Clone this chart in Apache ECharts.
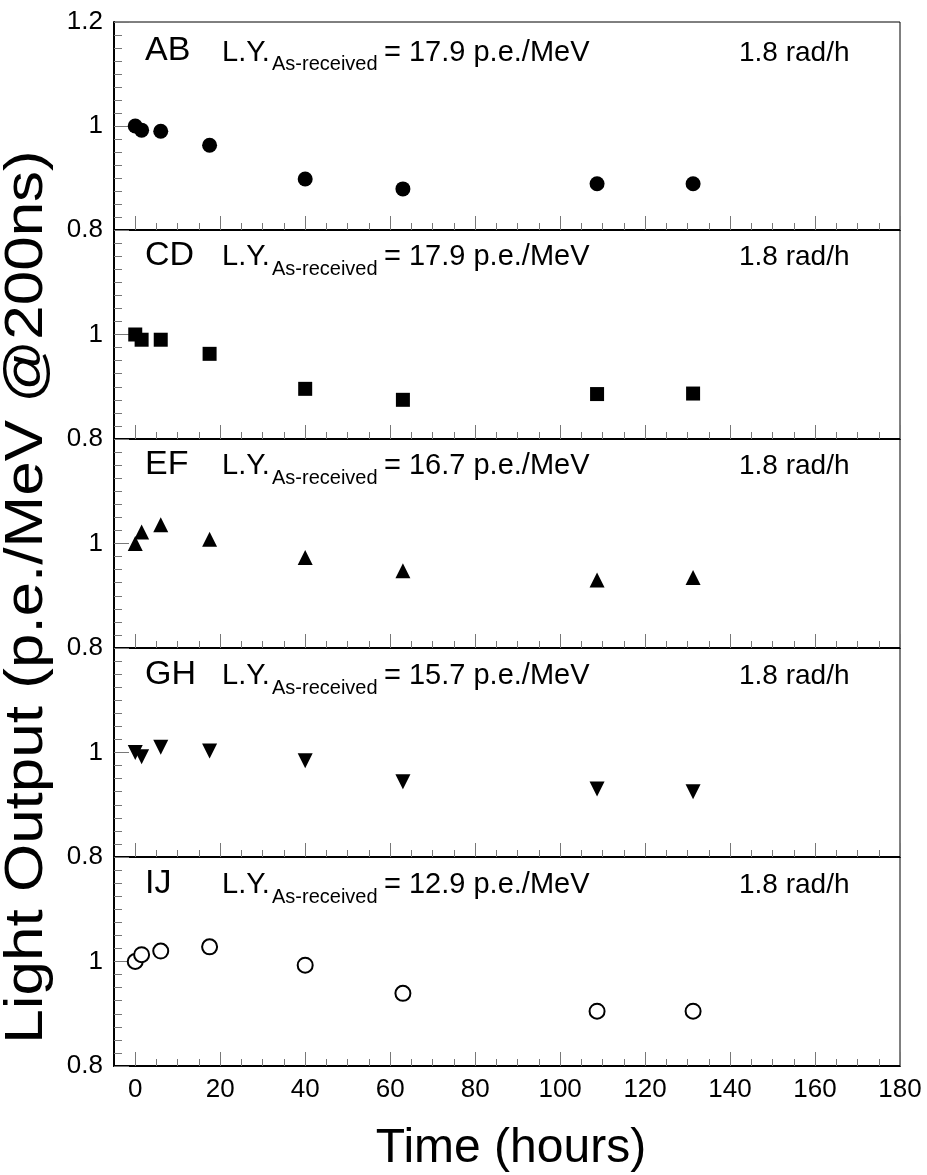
<!DOCTYPE html>
<html><head><meta charset="utf-8">
<script src="https://cdn.jsdelivr.net/npm/echarts@6/dist/echarts.min.js"></script>
<style>html,body{margin:0;padding:0;background:#fff}#c{width:927px;height:1175px}</style>
</head><body><div id="c"></div>
<script>
// ---- data ----
const timesHours = [0, 1.5, 6, 17.5, 40, 63, 108.7, 131.3];
const panelNames = ['AB', 'CD', 'EF', 'GH', 'IJ'];
const lyAsReceived = ['17.9', '17.9', '16.7', '15.7', '12.9'];
const doseRate = ['1.8 rad/h', '1.8 rad/h', '1.8 rad/h', '1.8 rad/h', '1.8 rad/h'];
const lightAB = [1.000, 0.992, 0.990, 0.963, 0.898, 0.879, 0.889, 0.889];
const lightCD = [1.000, 0.990, 0.990, 0.963, 0.896, 0.875, 0.886, 0.887];
const lightEF = [1.000, 1.022, 1.036, 1.008, 0.973, 0.948, 0.930, 0.935];
const lightGH = [1.000, 0.992, 1.010, 1.003, 0.984, 0.944, 0.930, 0.925];
const lightIJ = [1.000, 1.013, 1.020, 1.028, 0.993, 0.939, 0.905, 0.905];
const xMajorTicks = [0, 20, 40, 60, 80, 100, 120, 140, 160, 180];
const xMinorTicks = [5, 10, 15, 25, 30, 35, 45, 50, 55, 65, 70, 75, 85, 90, 95, 105, 110, 115, 125, 130, 135, 145, 150, 155, 165, 170, 175];

// ---- layout / style ----
const seriesValues = [lightAB, lightCD, lightEF, lightGH, lightIJ];
const markers = [
  {symbol: 'circle', size: 15, rotate: 0, fill: '#000'},
  {symbol: 'rect', size: 14, rotate: 0, fill: '#000'},
  {symbol: 'triangle', size: 15, rotate: 0, fill: '#000'},
  {symbol: 'triangle', size: 15, rotate: 180, fill: '#000'},
  {symbol: 'circle', size: 15, rotate: 0, fill: '#fff', open: true}
];
const frameTops = [22, 230, 439, 648, 857];
const frameBottoms = [230, 439, 648, 857, 1066];
const textBaselines = [62.7, 267, 476, 686, 895];
const FONT = '"Liberation Sans", Arial, Helvetica, sans-serif';
const MID = 0.3465; // middle-baseline offset (em)

const grid = [], xAxis = [], yAxis = [], series = [], graphic = [];
for (let i = 0; i < 5; i++) {
  grid.push({left: 114, width: 786, top: frameTops[i], height: frameBottoms[i] - frameTops[i],
    show: true, borderColor: '#000', borderWidth: 1, backgroundColor: 'transparent'});
  const isBottom = i === 4;
  xAxis.push({type: 'value', gridIndex: i, min: -5, max: 180, position: 'bottom',
    axisLine: {show: true, onZero: false, lineStyle: {color: '#000', width: 2}},
    axisTick: {show: true, inside: true, length: 14, customValues: xMajorTicks, lineStyle: {color: '#777', width: 1}},
    axisLabel: {show: isBottom, customValues: xMajorTicks, margin: 11, fontSize: 26, color: '#000', fontFamily: FONT},
    splitLine: {show: false}});
  xAxis.push({type: 'value', gridIndex: i, min: -5, max: 180, position: 'bottom',
    axisLine: {show: false},
    axisTick: {show: true, inside: true, length: 7, customValues: xMinorTicks, lineStyle: {color: '#777', width: 1}},
    axisLabel: {show: false, customValues: xMinorTicks},
    splitLine: {show: false}});
  yAxis.push({type: 'value', gridIndex: i, min: 0.8, max: 1.2, interval: 0.2,
    axisLine: {show: true, onZero: false, lineStyle: {color: '#000', width: 2}},
    axisTick: {show: true, inside: true, length: 15, lineStyle: {color: '#777', width: 1}},
    minorTick: {show: true, splitNumber: 8, length: 8, lineStyle: {color: '#777', width: 1}},
    axisLabel: {margin: 11, fontSize: 26, color: '#000', fontFamily: FONT,
      formatter: (v) => {
        const r = Math.round(v * 10) / 10;
        if (r >= 1.15 && i !== 0) return '';
        return String(r);
      }},
    splitLine: {show: false}});
  const m = markers[i];
  series.push({type: 'scatter', xAxisIndex: i * 2, yAxisIndex: i,
    data: timesHours.map((t, k) => [t, seriesValues[i][k]]),
    symbol: m.symbol, symbolSize: m.size, symbolRotate: m.rotate,
    itemStyle: {color: m.fill, borderColor: '#000', borderWidth: m.open ? 2 : 0, opacity: 1},
    emphasis: {disabled: true}, animation: false, z: 5});

  const b = textBaselines[i];
  graphic.push({type: 'text', x: 145, y: b - MID * 34, style: {text: panelNames[i], font: '34px ' + FONT, fill: '#000', verticalAlign: 'middle', align: 'left'}});
  graphic.push({type: 'text', x: 222, y: b - MID * 29, style: {text: 'L.Y.', font: '29px ' + FONT, fill: '#000', verticalAlign: 'middle', align: 'left'}});
  graphic.push({type: 'text', x: 272, y: b + 9 - MID * 20, style: {text: 'As-received', font: '20px ' + FONT, fill: '#000', verticalAlign: 'middle', align: 'left'}});
  graphic.push({type: 'text', x: 384, y: b - MID * 29, style: {text: '= ' + lyAsReceived[i] + ' p.e./MeV', font: '29px ' + FONT, fill: '#000', verticalAlign: 'middle', align: 'left'}});
  graphic.push({type: 'text', x: 739, y: b - MID * 28, style: {text: doseRate[i], font: '28px ' + FONT, fill: '#000', verticalAlign: 'middle', align: 'left'}});
}
graphic.push({type: 'text', x: 511, y: 1165 - MID * 48, style: {text: 'Time (hours)', font: '48px ' + FONT, fill: '#000', verticalAlign: 'middle', align: 'center'}});
graphic.push({type: 'text', x: 27, y: 597, rotation: Math.PI / 2, scaleX: 1, scaleY: 0.87,
  style: {text: 'Light Output (p.e./MeV @200ns)', font: '62px ' + FONT, fill: '#000', verticalAlign: 'middle', align: 'center'}});

const chart = echarts.init(document.getElementById('c'), null, {renderer: 'canvas'});
chart.setOption({animation: false, backgroundColor: '#fff', grid, xAxis, yAxis, series, graphic});
</script></body></html>
